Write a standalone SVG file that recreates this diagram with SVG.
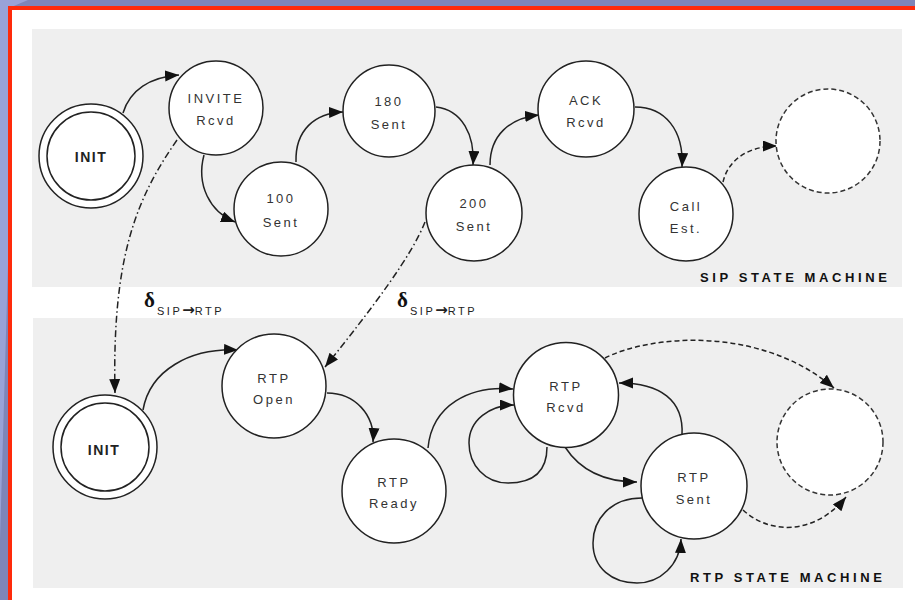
<svg xmlns="http://www.w3.org/2000/svg" width="915" height="600" viewBox="0 0 915 600">
<style>
.st{fill:#fff;stroke:#222;stroke-width:1.5}
.ds{fill:#fff;stroke:#333;stroke-width:1.5;stroke-dasharray:5 3}
.lb{font-family:"Liberation Sans",Arial,sans-serif;font-size:13px;letter-spacing:2.5px;fill:#333;text-anchor:middle}
.init{font-family:"Liberation Sans",Arial,sans-serif;font-size:14px;font-weight:bold;letter-spacing:1.5px;fill:#222;text-anchor:middle}
.title{font-family:"Liberation Sans",Arial,sans-serif;font-size:13px;font-weight:bold;letter-spacing:3.6px;fill:#111}
.e{fill:none;stroke:#222;stroke-width:1.5;marker-end:url(#ah)}
.dash{stroke-dasharray:5 3}
.dd{stroke-dasharray:7 3 1.5 3}
.dl{font-family:"Liberation Serif","Times New Roman",serif;font-size:21px;font-weight:bold;fill:#111}
.sub{font-family:"Liberation Sans",Arial,sans-serif;font-size:11px;letter-spacing:2.5px;fill:#222}
.arr{font-family:"DejaVu Sans",sans-serif;font-size:15px;font-weight:bold;letter-spacing:0}
</style>
<defs>
<marker id="ah" markerUnits="userSpaceOnUse" markerWidth="16" markerHeight="12" refX="14" refY="5.5" orient="auto">
<path d="M0,0 L14,5.5 L0,11 Z" fill="#111"/>
</marker>
</defs>
<rect width="915" height="600" fill="#7e85b8"/>
<polygon points="0,0 28,0 9,8 9,230 0,540" fill="#99a2d7"/>
<rect x="10" y="8" width="920" height="600" fill="#fff" stroke="#ff2a0a" stroke-width="4"/>
<rect x="32" y="29" width="870" height="258" fill="#efefef"/>
<rect x="33" y="318" width="870" height="270" fill="#efefef"/>

<g id="connectors">
<path class="e" d="M123,113 C130,90 150,77 179,75"/>
<path class="e" d="M204,155 C196,185 210,212 235,222"/>
<path class="e" d="M296,162 C295,130 315,113 343,112"/>
<path class="e" d="M436,107 C462,110 475,135 473,165"/>
<path class="e" d="M490,165 C490,135 510,118 539,115"/>
<path class="e" d="M635,107 C665,107 684,130 682,167"/>
<path class="e dash" d="M723,182 C728,160 748,146 777,146"/>
<path class="e dd" d="M177,140 C135,200 112,260 115,393"/>
<path class="e dd" d="M425,222 C412,255 375,305 325,367"/>
<path class="e" d="M143,410 C150,370 190,348 238,350"/>
<path class="e" d="M327,393 C355,393 375,415 373,442"/>
<path class="e" d="M428,448 C432,405 470,385 513,389"/>
<path class="e" d="M547,447 C547,475 530,483 508,483 C485,483 469,465 469,443 C469,420 490,405 514,405"/>
<path class="e" d="M565,447 C580,470 605,482 637,482"/>
<path class="e" d="M682,435 C684,400 660,383 619,383"/>
<path class="e" d="M642,498 C610,498 593,520 593,543 C593,568 612,583 637,583 C660,583 680,565 681,539"/>
<path class="e dash" d="M605,358 C650,335 760,325 834,388"/>
<path class="e dash" d="M743,510 C770,535 815,535 846,497"/>
</g>

<g id="sip-init"><circle class="st" cx="91" cy="156" r="52"/><circle class="st" cx="91" cy="156" r="44"/><text class="init" x="91" y="162">INIT</text></g>
<g id="invite-rcvd"><circle class="st" cx="216" cy="108" r="47"/><text class="lb" x="216" y="102.5">INVITE</text><text class="lb" x="216" y="125">Rcvd</text></g>
<g id="sent-100"><circle class="st" cx="281" cy="209" r="47"/><text class="lb" x="281" y="203">100</text><text class="lb" x="281" y="226.5">Sent</text></g>
<g id="sent-180"><circle class="st" cx="389" cy="111" r="46"/><text class="lb" x="389" y="106">180</text><text class="lb" x="389" y="129">Sent</text></g>
<g id="sent-200"><circle class="st" cx="474" cy="213" r="48"/><text class="lb" x="474" y="208">200</text><text class="lb" x="474" y="231">Sent</text></g>
<g id="ack-rcvd"><circle class="st" cx="586" cy="109" r="48"/><text class="lb" x="586" y="105">ACK</text><text class="lb" x="586" y="127">Rcvd</text></g>
<g id="call-est"><circle class="st" cx="686" cy="214" r="47"/><text class="lb" x="686" y="210.5">Call</text><text class="lb" x="686" y="232.5">Est.</text></g>
<g id="sip-next"><circle class="ds" cx="828" cy="141" r="52"/></g>
<text class="title" x="700" y="282">SIP STATE MACHINE</text>

<text class="dl" x="144" y="307">δ</text><text class="sub" x="157" y="315">SIP<tspan class="arr">→</tspan>RTP</text>
<text class="dl" x="397" y="307">δ</text><text class="sub" x="410" y="315">SIP<tspan class="arr">→</tspan>RTP</text>

<g id="rtp-init"><circle class="st" cx="105" cy="447" r="52"/><circle class="st" cx="105" cy="447" r="44"/><text class="init" x="104" y="455">INIT</text></g>
<g id="rtp-open"><circle class="st" cx="274" cy="386" r="52"/><text class="lb" x="274" y="383">RTP</text><text class="lb" x="274" y="404">Open</text></g>
<g id="rtp-ready"><circle class="st" cx="394" cy="491" r="52"/><text class="lb" x="394" y="487">RTP</text><text class="lb" x="394" y="508">Ready</text></g>
<g id="rtp-rcvd"><circle class="st" cx="566" cy="395" r="52.5"/><text class="lb" x="566" y="391">RTP</text><text class="lb" x="566" y="412">Rcvd</text></g>
<g id="rtp-sent"><circle class="st" cx="694" cy="486" r="53"/><text class="lb" x="694" y="482">RTP</text><text class="lb" x="694" y="504">Sent</text></g>
<g id="rtp-next"><circle class="ds" cx="830" cy="442" r="53"/></g>
<text class="title" x="690" y="582">RTP STATE MACHINE</text>
</svg>
